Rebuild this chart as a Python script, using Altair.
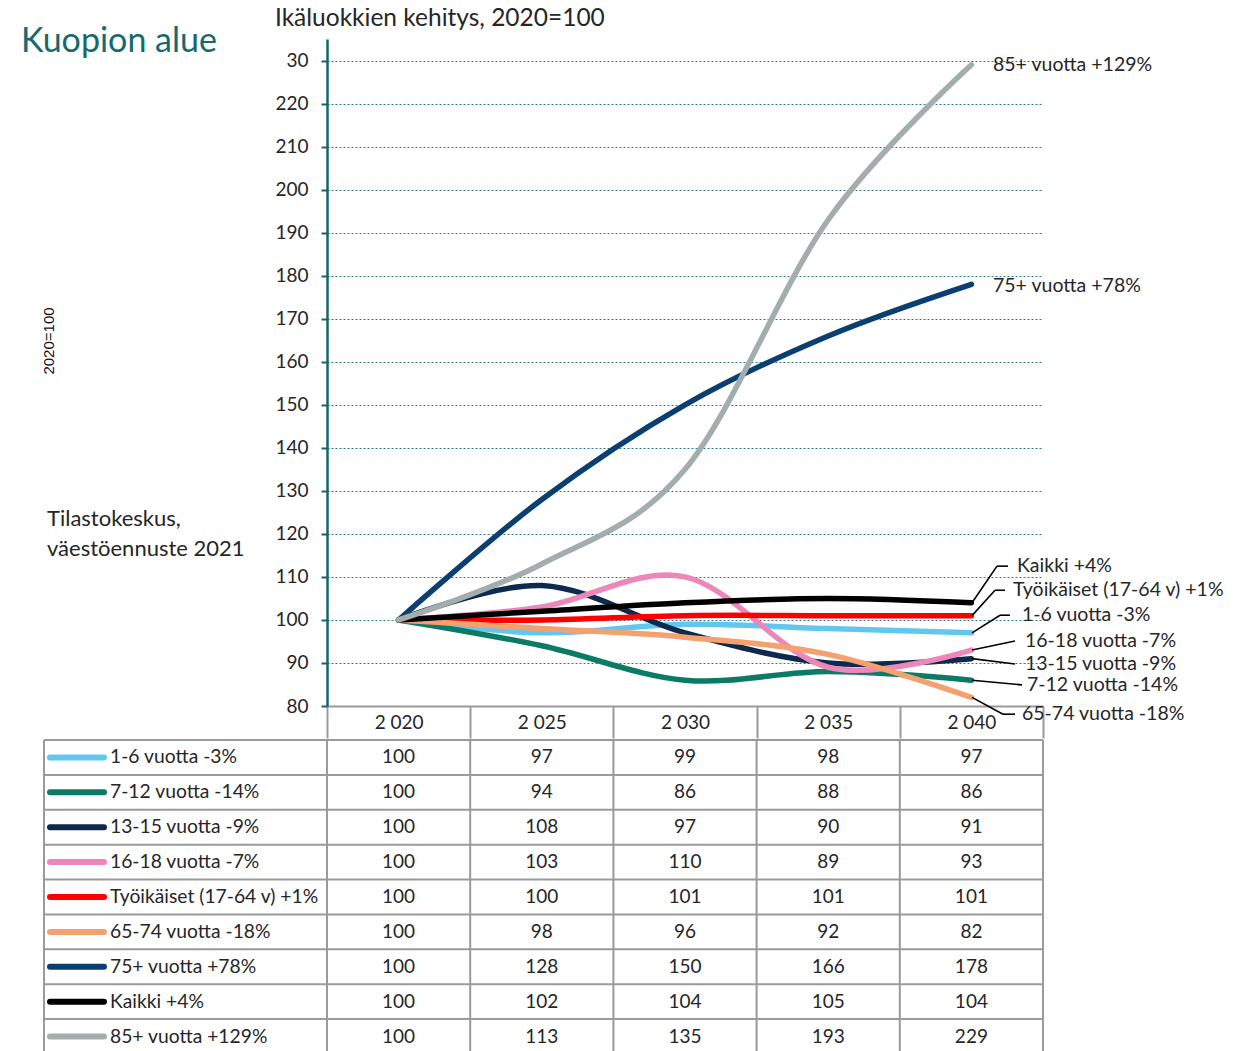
import altair as alt
import pandas as pd

# ---------------- data ----------------
years = ["2 020", "2 025", "2 030", "2 035", "2 040"]
series = ["1-6 vuotta -3%", "7-12 vuotta -14%", "13-15 vuotta -9%", "16-18 vuotta -7%",
          "Työikäiset (17-64 v) +1%", "65-74 vuotta -18%", "75+ vuotta +78%",
          "Kaikki +4%", "85+ vuotta +129%"]
colors = ["#62C7EF", "#0B7B66", "#0D2A4E", "#EE87B9", "#FF0000",
          "#F4A06F", "#0B3F70", "#000000", "#A4ADAE"]
v_1_6 = [100, 97, 99, 98, 97]
v_7_12 = [100, 94, 86, 88, 86]
v_13_15 = [100, 108, 97, 90, 91]
v_16_18 = [100, 103, 110, 89, 93]
v_tyo = [100, 100, 101, 101, 101]
v_65_74 = [100, 98, 96, 92, 82]
v_75 = [100, 128, 150, 166, 178]
v_kaikki = [100, 102, 104, 105, 104]
v_85 = [100, 113, 135, 193, 229]
all_values = [v_1_6, v_7_12, v_13_15, v_16_18, v_tyo, v_65_74, v_75, v_kaikki, v_85]
y_ticks = [80, 90, 100, 110, 120, 130, 140, 150, 160, 170, 180, 190, 200, 210, 220, 230]

rows = []
for s, vals in zip(series, all_values):
    for yr, v in zip(years, vals):
        rows.append({"series": s, "year": yr, "value": v})
df = pd.DataFrame(rows)
last = {s: vals[-1] for s, vals in zip(series, all_values)}

# ---------------- layout / style ----------------
FONT = "Lato"
W, H = 716, 667
TW, TH = 716, 314
TEAL = "#15666B"
GRID = "#2C7C84"
GRAY = "#9A9A9A"
TXT = "#262626"

# end label layout: series -> (text x px, label y in value units, kink x px, end x px) ; None = no leader
label_layout = {
    "85+ vuotta +129%": (666, 229.0, None, None),
    "75+ vuotta +78%": (666, 177.6, None, None),
    "Kaikki +4%": (690, 112.5, 670, 681),
    "Työikäiset (17-64 v) +1%": (686, 106.9, 668, 678),
    "1-6 vuotta -3%": (695, 101.1, 673, 683),
    "16-18 vuotta -7%": (698, 95.1, 688, 688),
    "13-15 vuotta -9%": (698, 89.75, 688, 688),
    "7-12 vuotta -14%": (700, 84.9, 695, 695),
    "65-74 vuotta -18%": (695, 78.1, 676, 688),
}
LEAD_X0 = 645

lab_rows, lead_rows = [], []
for s, (tx, ty, kx, ex) in label_layout.items():
    lab_rows.append({"series": s, "tx": tx, "ty": ty})
    if kx is not None:
        lead_rows.append({"x0": LEAD_X0, "x1": kx, "y0": last[s], "y1": ty})
        if ex != kx:
            lead_rows.append({"x0": kx, "x1": ex, "y0": ty, "y1": ty})
lab_df = pd.DataFrame(lab_rows)
lead_df = pd.DataFrame(lead_rows)

xscale = alt.Scale(type="band", domain=years, paddingInner=0, paddingOuter=0)
yscale = alt.Scale(domain=[80, 235], nice=False, zero=False)
cscale = alt.Scale(domain=series, range=colors)

y_axis = alt.Axis(title=None, values=y_ticks, labelExpr="datum.value == 230 ? '30' : datum.label",
                  grid=True, gridColor=GRID, gridDash=[2, 2], gridWidth=1,
                  domainColor=TEAL, domainWidth=2.5, tickColor=TEAL, tickSize=6, tickWidth=2,
                  labelPadding=13, labelFont=FONT, labelFontSize=19, labelColor=TXT)

lines = alt.Chart(df).mark_line(strokeWidth=5.5, interpolate="cardinal", strokeCap="round").encode(
    x=alt.X("year:N", scale=xscale, bandPosition=0.5, sort=years,
            axis=alt.Axis(title=None, tickBand="extent", tickSize=32, tickColor=GRAY, tickWidth=2,
                          domainColor=GRAY, domainWidth=2, labelPadding=-16, labelBaseline="middle",
                          labelAngle=0, labelFont=FONT, labelFontSize=19, labelColor=TXT, grid=False)),
    y=alt.Y("value:Q", scale=yscale, axis=y_axis),
    color=alt.Color("series:N", scale=cscale, legend=None),
)

leaders = alt.Chart(lead_df).mark_rule(color="#000000", strokeWidth=1.6).encode(
    x=alt.X("x0:Q", scale=None), x2="x1",
    y=alt.Y("y0:Q", scale=yscale, axis=y_axis), y2="y1",
)

end_labels = alt.Chart(lab_df).mark_text(align="left", baseline="middle", font=FONT,
                                          fontSize=19.5, color=TXT).encode(
    x=alt.X("tx:Q", scale=None),
    y=alt.Y("ty:Q", scale=yscale, axis=y_axis),
    text="series:N",
)

one = pd.DataFrame({"a": [0]})
title_txt = alt.Chart(one).mark_text(text="Ikäluokkien kehitys, 2020=100", align="left",
                                     baseline="alphabetic", font=FONT, fontSize=24.5, color=TXT).encode(
    x=alt.value(-52), y=alt.value(-13))
region_txt = alt.Chart(one).mark_text(text="Kuopion alue", align="left", baseline="alphabetic",
                                      font=FONT, fontSize=34, color="#16696D").encode(
    x=alt.value(-306), y=alt.value(13))
ytitle_txt = alt.Chart(one).mark_text(text="2020=100", align="center", baseline="middle", angle=270,
                                      font="Liberation Sans", fontSize=15, color="#111111").encode(
    x=alt.value(-278), y=alt.value(302))
source_txt = alt.Chart(one).mark_text(text=["Tilastokeskus,", "väestöennuste 2021"], align="left",
                                      baseline="alphabetic", lineHeight=30, font=FONT, fontSize=22,
                                      color=TXT).encode(
    x=alt.value(-280), y=alt.value(487))

top = alt.layer(lines, leaders, end_labels, title_txt, region_txt, ytitle_txt, source_txt).properties(
    width=W, height=H)

# ---------------- table ----------------
tx_scale = alt.Scale(type="band", domain=years, paddingInner=0, paddingOuter=0)
ty_scale = alt.Scale(type="band", domain=series, paddingInner=0, paddingOuter=0)
ser_df = pd.DataFrame({"series": series})
yr_df = pd.DataFrame({"year": years})

hlines = alt.Chart(ser_df).mark_rule(color=GRAY, strokeWidth=2).encode(
    y=alt.Y("series:N", scale=ty_scale, bandPosition=0, axis=None),
    x=alt.value(-283), x2=alt.value(TW))
hbottom = alt.Chart(one).mark_rule(color=GRAY, strokeWidth=2).encode(
    y=alt.value(TH), x=alt.value(-283), x2=alt.value(TW))
vlines = alt.Chart(yr_df).mark_rule(color=GRAY, strokeWidth=2).encode(
    x=alt.X("year:N", scale=tx_scale, bandPosition=0, axis=None),
    y=alt.value(0), y2=alt.value(TH))
vright = alt.Chart(one).mark_rule(color=GRAY, strokeWidth=2).encode(
    x=alt.value(TW), y=alt.value(0), y2=alt.value(TH))
vleft = alt.Chart(one).mark_rule(color=GRAY, strokeWidth=2).encode(
    x=alt.value(-283), y=alt.value(0), y2=alt.value(TH))
swatches = alt.Chart(ser_df).mark_rule(strokeWidth=6, strokeCap="round").encode(
    y=alt.Y("series:N", scale=ty_scale, bandPosition=0.5, axis=None),
    x=alt.value(-277), x2=alt.value(-223),
    color=alt.Color("series:N", scale=cscale, legend=None))
ser_labels = alt.Chart(ser_df).mark_text(align="left", baseline="middle", font=FONT, fontSize=19.3,
                                         color=TXT).encode(
    y=alt.Y("series:N", scale=ty_scale, bandPosition=0.5, axis=None),
    x=alt.value(-217), text="series:N")
cells = alt.Chart(df).mark_text(align="center", baseline="middle", font=FONT, fontSize=19,
                                color=TXT).encode(
    x=alt.X("year:N", scale=tx_scale, bandPosition=0.5, axis=None),
    y=alt.Y("series:N", scale=ty_scale, bandPosition=0.5, axis=None),
    text="value:Q")

table = alt.layer(hlines, hbottom, vlines, vright, vleft, swatches, ser_labels, cells).properties(
    width=TW, height=TH)

chart = alt.vconcat(top, table, spacing=0).configure_view(stroke=None).properties(
    padding={"left": 13, "top": -2, "right": 5, "bottom": 0})

chart.save("out.html", embed_options={"renderer": "svg", "actions": False})
